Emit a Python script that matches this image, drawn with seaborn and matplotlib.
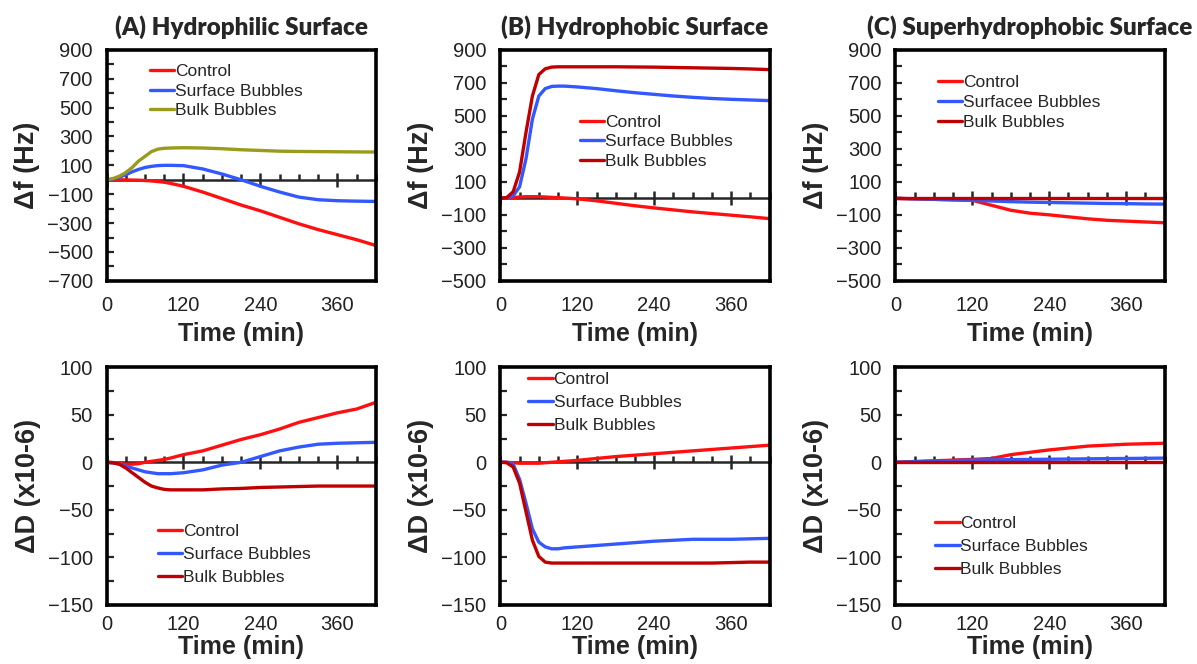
import numpy as np
import pandas as pd
import matplotlib
matplotlib.use('Agg')
import matplotlib.pyplot as plt
from matplotlib.ticker import MultipleLocator, FixedLocator
import seaborn as sns

sns.set_style('white')
plt.rcParams['font.family'] = ['Liberation Sans', 'DejaVu Sans']

# time axis (min), shared by all panels
time_min = [0, 10, 20, 30, 40, 50, 60, 70, 80, 90, 100, 120, 150, 180, 210,
            240, 270, 300, 330, 360, 390, 420]

# (A) hydrophilic - frequency shift (Hz)
a_f_control = [0, 0, 0, -1, -2, -3, -5, -8, -12, -17, -25, -45, -85, -130, -175,
               -215, -260, -305, -345, -380, -415, -455]
a_f_surface = [0, 5, 18, 35, 55, 72, 85, 93, 98, 100, 100, 98, 75, 40, 0,
               -45, -85, -120, -138, -145, -148, -150]
a_f_bulk = [0, 8, 25, 50, 85, 130, 162, 195, 212, 218, 220, 222, 220, 215, 208,
            203, 198, 196, 195, 194, 193, 192]

# (B) hydrophobic - frequency shift (Hz)
b_f_control = [0, 2, 5, 8, 10, 10, 10, 8, 6, 4, 2, -3, -15, -30, -45,
               -58, -70, -82, -92, -102, -112, -123]
b_f_surface = [0, 3, 15, 70, 240, 480, 620, 665, 678, 680, 680, 675, 665, 652, 640,
               630, 620, 612, 605, 600, 596, 592]
b_f_bulk = [0, 5, 40, 160, 400, 620, 750, 785, 795, 797, 797, 797, 797, 797, 796,
            795, 793, 791, 789, 787, 784, 780]

# (C) superhydrophobic - frequency shift (Hz)
c_f_control = [0, -1, -2, -3, -4, -5, -6, -7, -8, -9, -10, -12, -42, -72, -90,
               -100, -112, -124, -133, -138, -143, -148]
c_f_surface = [0, -1, -2, -3, -4, -5, -6, -7, -8, -9, -10, -12, -16, -20, -23,
               -25, -27, -29, -31, -32, -34, -35]
c_f_bulk = [0] * 22

# (A) hydrophilic - dissipation shift (x1e-6)
a_d_control = [0, -0.5, -1, -2, -2, -1.5, 0, 1, 2, 3, 4.5, 8, 12, 18, 24,
               29, 35, 42, 47, 52, 56, 63]
a_d_surface = [0, -0.5, -2, -4, -6, -8, -10, -11, -12, -12, -12, -11, -8, -3, 0,
               6, 12, 16, 19, 20, 20.5, 21]
a_d_bulk = [0, -0.5, -2, -6, -11, -16, -21, -25, -27, -28.5, -29, -29, -29, -28, -27.5,
            -26.5, -26, -25.5, -25, -25, -25, -25]

# (B) hydrophobic - dissipation shift (x1e-6)
b_d_control = [0, 0, -0.5, -1, -1, -1, -1, -0.5, 0, 0.5, 1, 2, 4, 6, 7.5,
               9, 10.5, 12, 13.5, 15, 16.5, 18]
b_d_surface = [0, 0, -2, -18, -43, -70, -84, -89, -91, -91, -90, -89, -87.5, -86, -84.5,
               -83, -82, -81, -81, -81, -80.5, -80]
b_d_bulk = [0, -0.5, -5, -22, -52, -82, -99, -105, -106, -106, -106, -106, -106, -106, -106,
            -106, -106, -106, -106, -105.5, -105, -105]

# (C) superhydrophobic - dissipation shift (x1e-6)
c_d_control = [0, 0.2, 0.5, 0.8, 1, 1.3, 1.5, 1.8, 2, 2.3, 2.6, 3, 4, 8, 10.5,
               13, 15, 17, 18, 19, 19.5, 20]
c_d_surface = [0, 0.2, 0.4, 0.6, 0.8, 1, 1.2, 1.4, 1.6, 1.8, 2, 2.2, 2.5, 2.8, 3,
               3.2, 3.4, 3.6, 3.8, 4, 4.2, 4.4]
c_d_bulk = [0] * 22

labels_std = ['Control', 'Surface Bubbles', 'Bulk Bubbles']
labels_c_top = ['Control', 'Surfacee Bubbles', 'Bulk Bubbles']

RED = '#ff1010'
BLUE = '#3358ff'
DARKRED = '#c00000'
OLIVE = '#9a9a1c'

titles = ['(A) Hydrophilic Surface', '(B) Hydrophobic Surface', '(C) Superhydrophobic Surface']

lefts = [0.089, 0.418, 0.748]
width = 0.225

# (series, labels, colors, legend anchor)
top_panels = [
    ([a_f_control, a_f_surface, a_f_bulk], labels_std, [RED, BLUE, OLIVE], (0.16, 0.94)),
    ([b_f_control, b_f_surface, b_f_bulk], labels_std, [RED, BLUE, DARKRED], (0.296, 0.72)),
    ([c_f_control, c_f_surface, c_f_bulk], labels_c_top, [RED, BLUE, DARKRED], (0.158, 0.89)),
]
top_ylims = [(-700, 900), (-500, 900), (-500, 900)]

bottom_panels = [
    ([a_d_control, a_d_surface, a_d_bulk], labels_std, [RED, BLUE, DARKRED], (0.19, 0.34)),
    ([b_d_control, b_d_surface, b_d_bulk], labels_std, [RED, BLUE, DARKRED], (0.104, 0.98)),
    ([c_d_control, c_d_surface, c_d_bulk], labels_std, [RED, BLUE, DARKRED], (0.148, 0.375)),
]


def draw_panel(ax, series, labels, colors, ylim, ymajor, yminor, ylabel, legend_at,
               xlabelpad, xtickpad, lab_spacing):
    for vals, lab, col in zip(series, labels, colors):
        df = pd.DataFrame({'time': time_min, 'value': vals})
        sns.lineplot(data=df, x='time', y='value', color=col, label=lab,
                     linewidth=2.4, ax=ax)
    ax.set_xlim(0, 420)
    ax.set_ylim(*ylim)
    ax.set_xticks([0, 120, 240, 360])
    ax.yaxis.set_major_locator(FixedLocator(ymajor))
    ax.yaxis.set_minor_locator(FixedLocator(yminor))
    for s in ax.spines.values():
        s.set_visible(True)
        s.set_linewidth(2.6)
        s.set_color('black')
    ax.tick_params(axis='x', which='both', length=0, labelsize=14.5,
                   pad=xtickpad, labelcolor='#222222')
    ax.tick_params(axis='y', which='both', direction='in', length=5, width=1.6,
                   labelsize=14.5, pad=10, labelcolor='#222222', left=True)
    ax.set_xlabel('Time (min)', fontsize=18, fontweight='bold', labelpad=xlabelpad)
    ax.set_ylabel(ylabel, fontsize=19.5, fontweight='bold', labelpad=5)

    # x axis crossing at y = 0 with ticks
    frac = (0 - ylim[0]) / (ylim[1] - ylim[0])
    sec = ax.secondary_xaxis(frac)
    sec.set_xticks([0, 120, 240, 360])
    sec.xaxis.set_minor_locator(MultipleLocator(30))
    sec.tick_params(which='major', direction='inout', length=10, width=1.8,
                    labelbottom=False, labeltop=False, bottom=True, top=False)
    sec.tick_params(which='minor', direction='in', length=4.5, width=1.8,
                    bottom=True, top=False)
    for s in sec.spines.values():
        s.set_linewidth(1.8)

    ax.legend(loc='upper left', bbox_to_anchor=legend_at, frameon=False,
              borderpad=0, borderaxespad=0, handlelength=1.4, handletextpad=0.05,
              labelspacing=lab_spacing, fontsize=12.5)


fig = plt.figure(figsize=(11.97, 6.64), dpi=100)

for i in range(3):
    ax = fig.add_axes([lefts[i], 0.577, width, 0.348])
    series, labs, cols, leg = top_panels[i]
    ylo, yhi = top_ylims[i]
    draw_panel(ax, series, labs, cols, top_ylims[i],
               np.arange(ylo, yhi + 1, 200), np.arange(ylo + 100, yhi, 200),
               'Δf (Hz)', leg, 5, 11, 0.27)
    ax.set_title(titles[i], fontsize=17.5, fontweight='heavy', family=['Lato', 'DejaVu Sans'],
                 pad=11)

for i in range(3):
    ax = fig.add_axes([lefts[i], 0.089, width, 0.358])
    series, labs, cols, leg = bottom_panels[i]
    draw_panel(ax, series, labs, cols, (-150, 100),
               np.arange(-150, 101, 50), np.arange(-125, 100, 50),
               'ΔD (x10-6)', leg, 1, 7, 0.45)

fig.savefig('out.png', dpi=100)
